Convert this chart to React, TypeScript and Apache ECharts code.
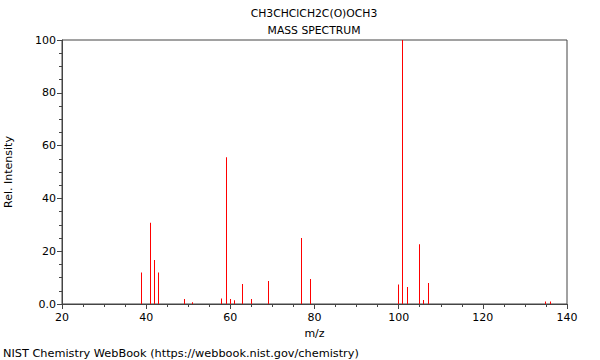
import React, { useEffect, useRef } from "react";
import * as echarts from "echarts";

const titleLines = ["CH3CHClCH2C(O)OCH3", "MASS SPECTRUM"];
const xName = "m/z";
const yName = "Rel. Intensity";
const footer = "NIST Chemistry WebBook (https://webbook.nist.gov/chemistry)";

const mz = [39, 41, 42, 43, 49, 51, 58, 59, 60, 61, 63, 65, 69, 77, 79, 100, 101, 102, 105, 106, 107, 135, 136];
const intensity = [11.9, 30.8, 16.7, 11.9, 1.9, 0.7, 2.1, 55.6, 1.9, 1.4, 7.6, 1.9, 8.7, 25.0, 9.5, 7.4, 100, 6.4, 22.6, 1.5, 8.0, 0.9, 0.9];

const FONT = "DejaVu Sans";

export default function App() {
  const ref = useRef<HTMLDivElement>(null);
  useEffect(() => {
    if (!ref.current) return;
    const chart = echarts.init(ref.current, null, { renderer: "svg" });
    const data = mz.map((m, i) => [m, intensity[i]]);
    chart.setOption({
      animation: false,
      textStyle: { fontFamily: FONT },
      graphic: [
        {
          type: "text",
          x: 314,
          y: 13,
          style: {
            text: titleLines[0],
            fontFamily: FONT,
            fontSize: 10.8,
            fill: "#000",
            align: "center",
            verticalAlign: "middle",
          },
        },
        {
          type: "text",
          x: 314,
          y: 30,
          style: {
            text: titleLines[1],
            fontFamily: FONT,
            fontSize: 10.8,
            fill: "#000",
            align: "center",
            verticalAlign: "middle",
          },
        },
        {
          type: "text",
          x: 3,
          y: 353,
          style: {
            text: footer,
            fontFamily: FONT,
            fontSize: 11.3,
            fill: "#000",
            align: "left",
            verticalAlign: "middle",
          },
        },
      ],
      grid: {
        left: 62,
        right: 33,
        top: 40,
        bottom: 56,
        outerBoundsMode: "none",
        containLabel: false,
        show: true,
        borderColor: "#444",
        borderWidth: 1,
        backgroundColor: "transparent",
      },
      xAxis: {
        type: "value",
        min: 20,
        max: 140,
        interval: 20,
        name: xName,
        nameLocation: "middle",
        nameGap: 23,
        nameTextStyle: { fontFamily: FONT, fontSize: 11, color: "#000" },
        axisLine: { lineStyle: { color: "#444", width: 1 } },
        axisTick: { show: true, length: 5, lineStyle: { color: "#444" } },
        minorTick: { show: true, splitNumber: 4, length: 3, lineStyle: { color: "#444" } },
        splitLine: { show: false },
        axisLabel: { fontFamily: FONT, fontSize: 11, color: "#000", margin: 8 },
      },
      yAxis: {
        type: "value",
        min: 0,
        max: 100,
        interval: 20,
        name: yName,
        nameLocation: "middle",
        nameGap: 48,
        nameTextStyle: { fontFamily: FONT, fontSize: 11, color: "#000" },
        axisLine: { show: true, lineStyle: { color: "#444", width: 1 } },
        axisTick: { show: true, length: 5, lineStyle: { color: "#444" } },
        minorTick: { show: true, splitNumber: 4, length: 3, lineStyle: { color: "#444" } },
        splitLine: { show: false },
        axisLabel: {
          fontFamily: FONT,
          fontSize: 11,
          color: "#000",
          margin: 6,
          formatter: (v: number) => (v === 0 ? "0.0" : String(v)),
        },
      },
      series: [
        {
          type: "custom",
          data,
          clip: true,
          z: 5,
          renderItem: (params: any, api: any) => {
            const x = api.value(0);
            const y = api.value(1);
            const p0 = api.coord([x, 0]);
            const p1 = api.coord([x, y]);
            const px = Math.floor(p0[0]);
            return {
              type: "rect",
              shape: { x: px, y: p1[1], width: 1, height: p0[1] - p1[1] },
              style: { fill: "#ff0000", stroke: null },
            };
          },
        },
      ],
    });
    return () => chart.dispose();
  }, []);
  return (
    <div
      ref={ref}
      style={{ position: "absolute", left: 0, top: 0, width: 600, height: 360, background: "#fff" }}
    />
  );
}
